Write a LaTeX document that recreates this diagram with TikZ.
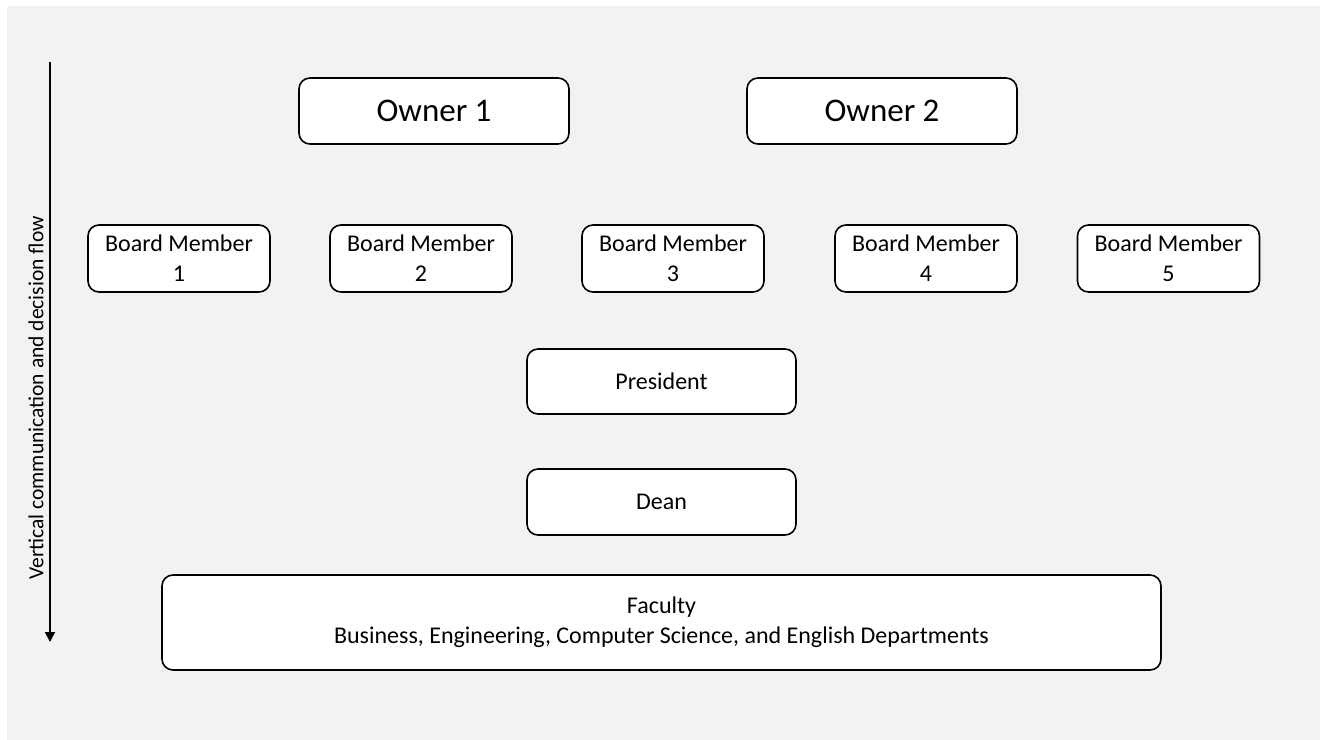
\documentclass[tikz,border=0pt]{standalone}
\usepackage{fontspec}
\setmainfont{Carlito}
\usetikzlibrary{arrows.meta}
\definecolor{bggray}{HTML}{F2F2F2}
\tikzset{
  box/.style={draw=black, line width=1.6pt, rounded corners=11pt, fill=white, inner sep=0pt, align=center},
  bigtxt/.style={font=\fontsize{33}{38}\selectfont},
  midtxt/.style={font=\fontsize{24}{30}\selectfont},
  flow/.style={line width=1.8pt, -{Triangle[length=10pt,width=10pt]}}
}
\begin{document}
\begin{tikzpicture}[x=1pt,y=-1pt]
\useasboundingbox (0,0) rectangle (1320,739);
\fill[white] (0,0) rectangle (1320,739);
\fill[bggray] (7,6) rectangle (1321,740);
\node[box,bigtxt,minimum width=270pt,minimum height=66pt] (o1) at (434,111) {Owner 1};
\node[box,bigtxt,minimum width=270pt,minimum height=66pt] (o2) at (882,111) {Owner 2};
\foreach \n/\x in {1/179,2/421,3/673,4/926,5/1168.5}{
  \node[box,midtxt,minimum width=182pt,minimum height=67pt] (b\n) at (\x,258.5) {Board Member\\\n};
}
\node[box,midtxt,minimum width=269pt,minimum height=65pt] (pres) at (661.5,381.5) {President};
\node[box,midtxt,minimum width=269pt,minimum height=66pt] (dean) at (661.5,502) {Dean};
\node[box,midtxt,minimum width=999pt,minimum height=95pt] (fac) at (661.5,622.5) {Faculty\\Business, Engineering, Computer Science, and English Departments};
\coordinate (atop) at (50,62);
\coordinate (abot) at (50,642);
\draw[flow] (atop) -- (abot);
\node[rotate=90,font=\fontsize{21.5}{24}\selectfont,inner sep=0pt] (lbl) at (36,398) {Vertical communication and decision flow};
\end{tikzpicture}
\end{document}
